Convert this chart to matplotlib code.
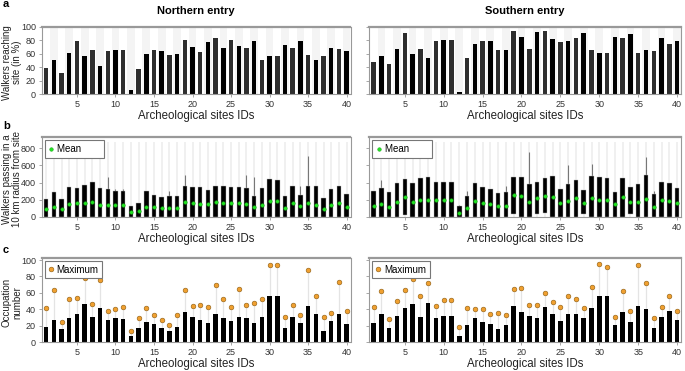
import numpy as np
import matplotlib
matplotlib.use("Agg")
import matplotlib.pyplot as plt

plt.rcParams['font.family'] = ['Liberation Sans', 'DejaVu Sans']

sites = np.arange(1, 41)

# a: walkers reaching site (%)
reach_n = [39, 51, 32, 61, 79, 57, 65, 42, 64, 65.5, 65.5, 6.5, 37.5, 59, 65.5, 63.5, 57.5, 59.5, 80.5, 70,
           62, 78, 83, 68, 81, 72, 68.5, 79.5, 50.5, 56.5, 56.5, 73, 69, 79.5, 58, 50.5, 56, 68.5, 67, 63.5]
reach_s = [48.5, 57, 45, 67, 90.5, 59.5, 67.5, 53.5, 78.5, 80, 80, 3, 53, 74.5, 79, 79, 65.5, 65.5, 93.5, 85.5,
           67, 92.5, 94.5, 82.5, 77.5, 79.5, 83.5, 91, 65.5, 60.5, 60.5, 85.5, 83.5, 90, 61.5, 66, 63.5, 84, 74.5, 79]

# b: walkers passing within 10 km
pass_n_top = [212, 296, 208, 352, 332, 376, 404, 332, 320, 300, 300, 124, 160, 300, 252, 232, 240, 240, 360, 344,
              344, 316, 364, 360, 352, 352, 340, 240, 340, 440, 428, 240, 360, 256, 364, 360, 224, 320, 360, 264]
pass_n_mean = [92, 120, 88, 152, 164, 164, 180, 140, 140, 136, 136, 60, 72, 120, 112, 100, 100, 104, 176, 160,
               152, 152, 180, 164, 168, 160, 152, 120, 144, 184, 184, 108, 160, 132, 160, 144, 92, 144, 160, 116]
pass_n_whisk = [np.nan] * 40
for i, v in {9: 470, 10: 330, 11: 330, 17: 300, 19: 485, 27: 485, 28: 460, 34: 365, 35: 710}.items():
    pass_n_whisk[i - 1] = v
pass_n_bottom = [0] * 40

pass_s_top = [300, 336, 292, 400, 436, 392, 448, 464, 404, 404, 404, 132, 248, 396, 344, 324, 284, 292, 468, 468,
              380, 404, 452, 472, 328, 380, 432, 312, 480, 464, 456, 296, 456, 344, 388, 492, 268, 408, 400, 336]
pass_s_mean = [124, 148, 120, 180, 228, 176, 200, 192, 192, 192, 192, 52, 104, 188, 164, 152, 128, 128, 256, 240,
               176, 216, 248, 236, 164, 188, 220, 164, 216, 196, 196, 148, 228, 180, 176, 212, 116, 200, 188, 168]
pass_s_whisk = [np.nan] * 40
for i, v in {2: 432, 12: 145, 13: 304, 18: 360, 21: 756, 26: 600, 29: 612, 36: 696, 37: 300}.items():
    pass_s_whisk[i - 1] = v
pass_s_bottom = [0] * 40
for i, v in {5: 20, 19: 40, 22: 30, 23: 45, 28: 30, 34: 30}.items():
    pass_s_bottom[i - 1] = v
RANGE_TOP = 870

# c: occupation number
occ_n = [18.6, 27.3, 15.7, 28.9, 33.9, 45.9, 30.2, 41.3, 26.9, 28.9, 28.1, 7.4, 16.9, 24, 22.3, 16.9, 14, 18.2, 36, 30.2,
         27.3, 23.1, 34.7, 28.9, 26, 31, 29.8, 23.1, 31, 55.8, 55.8, 16.9, 30.2, 23.1, 44.2, 34.7, 14, 26, 33.9, 21.5]
occ_n_max = [41.7, 63.2, 24.4, 52, 53.7, 78.5, 46.7, 75.6, 38, 40, 42.1, 13.2, 28.9, 41.3, 33, 26.9, 21, 33, 63.2, 44.2,
             45, 43, 69.4, 52.9, 43, 64.9, 45, 47.9, 52, 93.4, 93.4, 30.2, 44.6, 33, 88, 55.8, 30.2, 35.1, 73, 38]
occ_s = [22.7, 33.9, 16.9, 31.8, 40.9, 46.3, 30.2, 47.9, 29.8, 31.8, 31.8, 7.4, 20.7, 28.9, 24.8, 21.9, 15.7, 20.7, 43.8, 36,
         31.8, 28.9, 43, 34.7, 25.6, 33.9, 34.7, 28.9, 41.3, 56.5, 56.5, 20.7, 36, 24, 44.2, 40.1, 16.9, 30.2, 38, 26.9]
occ_s_max = [42.1, 62.4, 28.1, 50.4, 63.6, 76.9, 56.6, 71.9, 44.2, 51.7, 51.7, 18.6, 41.3, 40.5, 40.5, 34.3, 35.1, 33.5, 64.9, 65.7,
             45.5, 44.6, 59.5, 48.3, 42.6, 55.8, 52.5, 41.7, 67.4, 95, 91.7, 31, 62, 37.6, 94.2, 71.5, 29.8, 42.6, 55.8, 38.4]

W, H = 685, 371
fig = plt.figure(figsize=(W / 100, H / 100), dpi=100)

cols = [(41.5, 350.5), (369, 681)]
rows = [(27, 94), (137, 217), (258, 342)]


def make_ax(c, r, ylabel=None):
    x0, x1 = cols[c]
    y0, y1 = rows[r]
    ax = fig.add_axes([x0 / W, 1 - y1 / H, (x1 - x0) / W, (y1 - y0) / H])
    ax.set_xlim(0.4, 40.5)
    for s in ax.spines.values():
        s.set_color('#999999')
        s.set_linewidth(0.8)
    ax.spines['top'].set_linewidth(1.6)
    ax.tick_params(labelsize=6.5, colors='#333333', length=2, width=0.6, pad=2)
    ax.tick_params(axis='both', color='#999999')
    ax.set_xticks(range(5, 41, 5))
    ax.set_xlabel('Archeological sites IDs', fontsize=8.3, color='#222222', labelpad=1)
    if c == 1:
        ax.set_yticklabels([])
    if ylabel and c == 0:
        ax.set_ylabel(ylabel, fontsize=7, color='#222222', linespacing=1.0)
        ax.yaxis.set_label_coords((22 - x0) / (x1 - x0), 0.47)
    return ax


bw = 0.58

# panel a
for c, vals in enumerate([reach_n, reach_s]):
    ax = make_ax(c, 0, 'Walkers reaching\nsite (in %)')
    for s in sites[1::2]:
        ax.axvspan(s - 0.5, s + 0.5, color='#f4f4f4', lw=0, zorder=0)
    colors = ['#2e2e2e' if s % 2 else '#000000' for s in sites]
    ax.bar(sites, vals, width=bw, color=colors, zorder=2)
    ax.set_ylim(0, 100)
    ax.set_yticks(range(0, 101, 20))

fig.text(196 / W, 1 - 11 / H, 'Northern entry', ha='center', va='center', fontsize=8, fontweight='bold')
fig.text(525 / W, 1 - 11 / H, 'Southern entry', ha='center', va='center', fontsize=8, fontweight='bold')

# panel b
for c, (top, mean, whisk, bot) in enumerate([(pass_n_top, pass_n_mean, pass_n_whisk, pass_n_bottom),
                                             (pass_s_top, pass_s_mean, pass_s_whisk, pass_s_bottom)]):
    ax = make_ax(c, 1, 'Walkers passing in a\n10 km radius from site')
    ax.vlines(sites, 0, RANGE_TOP, color='#eeeeee', lw=1.2, zorder=1)
    ax.vlines(sites, top, whisk, color='#777777', lw=0.8, zorder=2)
    heights = np.array(top) - np.array(bot)
    ax.bar(sites, heights, bottom=bot, width=bw, color='black', edgecolor='#bbbbbb', lw=0.3, zorder=3)
    ax.plot(sites, mean, 'o', ms=2.6, color='#22e022', mec='#11a011', mew=0.3, zorder=4, label='Mean')
    ax.set_ylim(0, 930)
    ax.set_yticks(range(0, 801, 200))
    leg = ax.legend(loc='upper left', fontsize=7, handlelength=0.6, handletextpad=0.3,
                    borderpad=0.4, fancybox=False, framealpha=1, edgecolor='#777777',
                    bbox_to_anchor=(0.01, 0.96), borderaxespad=0)
    leg.get_frame().set_linewidth(0.8)
    for t in leg.get_texts():
        t.set_text('Mean' + ' ' * 7)

# panel c
for c, (occ, occ_max) in enumerate([(occ_n, occ_n_max), (occ_s, occ_s_max)]):
    ax = make_ax(c, 2, 'Occupation\nnumber')
    ax.vlines(sites, occ, occ_max, color='#e4e4e4', lw=0.9, zorder=1)
    ax.bar(sites, occ, width=bw, color='black', zorder=2)
    ax.plot(sites, occ_max, 'o', ms=3.4, color='#f0a030', mec='#8a5a10', mew=0.4, zorder=3, label='Maximum')
    ax.set_ylim(0, 102.5)
    ax.set_yticks(range(0, 101, 20))
    leg = ax.legend(loc='upper left', fontsize=7, handlelength=0.6, handletextpad=0.3,
                    borderpad=0.35, fancybox=False, framealpha=1, edgecolor='#777777',
                    bbox_to_anchor=(0.01, 0.96), borderaxespad=0)
    leg.get_frame().set_linewidth(0.8)

for letter, y in [('a', 4), ('b', 126), ('c', 250)]:
    fig.text(3 / W, 1 - y / H, letter, ha='left', va='center', fontsize=8, fontweight='bold')

fig.savefig('out.png', dpi=100)
